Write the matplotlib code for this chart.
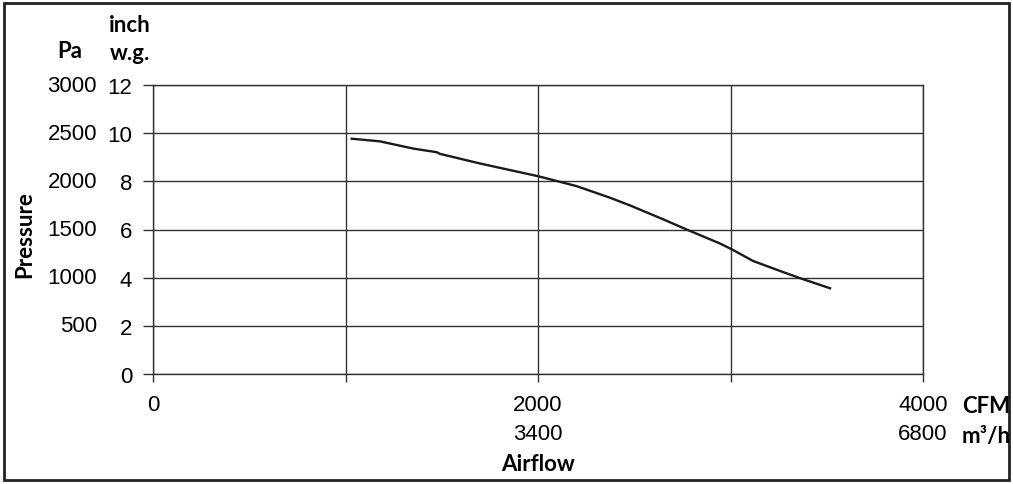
import matplotlib.pyplot as plt
from matplotlib.patches import Rectangle

# fan curve, airflow in CFM and static pressure in inch w.g.
airflow_cfm = [1032, 1179, 1352, 1474, 1491, 1699, 2002, 2201, 2374, 2478,
               2651, 2772, 2945, 3006, 3118, 3257, 3361, 3517]
pressure_inwg = [9.77, 9.66, 9.36, 9.21, 9.14, 8.74, 8.21, 7.80, 7.32, 7.00,
                 6.42, 6.00, 5.42, 5.18, 4.69, 4.28, 3.98, 3.56]

# axis ticks and their labels
x_ticks = [0, 1000, 2000, 3000, 4000]
cfm_labels = ["0", "", "2000", "", "4000"]
m3h_labels = ["", "", "3400", "", "6800"]
inwg_ticks = [0, 2, 4, 6, 8, 10, 12]
pa_labels = ["", "500", "1000", "1500", "2000", "2500", "3000"]

W, H = 1013, 485
fig = plt.figure(figsize=(W / 100, H / 100), dpi=100)
ax = fig.add_axes([153 / W, (H - 375) / H, 770 / W, (375 - 86) / H])

num_font = "Liberation Sans"
bold_font = "Lato"
fs = 16

ax.plot(airflow_cfm, pressure_inwg, color="#1a1a1a", lw=1.7)

ax.set_xlim(0, 4000)
ax.set_ylim(0, 12)
ax.set_xticks(x_ticks)
ax.set_xticklabels([])
ax.set_yticks(inwg_ticks)
ax.set_yticklabels([str(v) for v in inwg_ticks], fontfamily=num_font, fontsize=fs)
ax.tick_params(axis="y", direction="out", length=7, width=1, pad=8, color="#333333")
ax.tick_params(axis="x", direction="out", length=6, width=1, color="#333333")
ax.grid(True, color="#333333", lw=1)
for s in ax.spines.values():
    s.set_color("#333333")
    s.set_linewidth(1)

# second row of x labels and the Pa column
xt = ax.get_xaxis_transform()
for x, c, m in zip(x_ticks, cfm_labels, m3h_labels):
    ax.text(x, -31 / 289, c, transform=xt, ha="center", va="center",
            fontfamily=num_font, fontsize=fs)
    ax.text(x, -60 / 289, m, transform=xt, ha="center", va="center",
            fontfamily=num_font, fontsize=fs)

for y, p in zip(inwg_ticks, pa_labels):
    ax.annotate(p, xy=(0, y), xycoords=("axes fraction", "data"),
                xytext=(-56, 0), textcoords="offset pixels",
                ha="right", va="center", fontfamily=num_font, fontsize=fs)

# unit and axis titles
bold = dict(fontfamily=bold_font, fontweight="bold", fontsize=fs)
fig.text(70 / W, 1 - 51 / H, "Pa", ha="center", va="center", **bold)
fig.text(130 / W, 1 - 26 / H, "inch", ha="center", va="center", **bold)
fig.text(130 / W, 1 - 53 / H, "w.g.", ha="center", va="center", **bold)
fig.text(25 / W, 1 - 235 / H, "Pressure", ha="center", va="center", rotation=90, **bold)
fig.text(538 / W, 1 - 465 / H, "Airflow", ha="center", va="center", **bold)
fig.text(962 / W, 1 - 407 / H, "CFM", ha="left", va="center", **bold)
fig.text(962 / W, 1 - 437 / H, "m³/h", ha="left", va="center", **bold)

# outer frame
fig.patches.append(Rectangle((4 / W, 4 / H), 1005 / W, 477 / H, transform=fig.transFigure,
                             fill=False, edgecolor="#222222", lw=2))

fig.savefig("out.png", dpi=100)
